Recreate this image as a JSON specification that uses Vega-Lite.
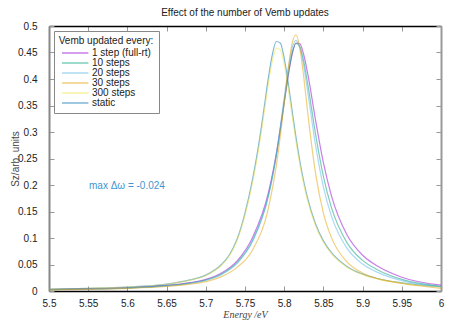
{
  "$schema": "https://vega.github.io/schema/vega-lite/v6.json",
  "width": 392,
  "height": 265,
  "autosize": {"type": "none"},
  "padding": {"left": 49, "top": 26, "right": 16, "bottom": 29},
  "background": "white",
  "config": {
    "font": "Liberation Sans",
    "view": {"stroke": null},
    "axis": {"labelFont": "Liberation Sans", "labelFontSize": 10, "labelColor": "#222", "grid": false}
  },
  "title": {"text": "Effect of the number of Vemb updates", "fontSize": 10, "fontWeight": "normal", "font": "Liberation Sans", "anchor": "middle", "offset": 3, "color": "#222"},
  "layer": [
    {
      "data": {"values": [
        {"s":"static","x":5.5,"y":0.0035},{"s":"static","x":5.55,"y":0.005},{"s":"static","x":5.6,"y":0.0075},{"s":"static","x":5.65,"y":0.013},{"s":"static","x":5.68,"y":0.021},{"s":"static","x":5.7,"y":0.03},{"s":"static","x":5.72,"y":0.05},{"s":"static","x":5.73,"y":0.068},{"s":"static","x":5.74,"y":0.098},{"s":"static","x":5.75,"y":0.147},{"s":"static","x":5.76,"y":0.2133},{"s":"static","x":5.77,"y":0.3002},{"s":"static","x":5.775,"y":0.352},{"s":"static","x":5.78,"y":0.4039},{"s":"static","x":5.785,"y":0.4469},{"s":"static","x":5.79,"y":0.4708},{"s":"static","x":5.795,"y":0.468},{"s":"static","x":5.8,"y":0.4395},{"s":"static","x":5.805,"y":0.3938},{"s":"static","x":5.81,"y":0.3414},{"s":"static","x":5.815,"y":0.2903},{"s":"static","x":5.82,"y":0.2448},{"s":"static","x":5.83,"y":0.1741},{"s":"static","x":5.84,"y":0.1265},{"s":"static","x":5.85,"y":0.0946},{"s":"static","x":5.86,"y":0.0728},{"s":"static","x":5.88,"y":0.0463},{"s":"static","x":5.9,"y":0.0318},{"s":"static","x":5.92,"y":0.0231},{"s":"static","x":5.95,"y":0.0154},{"s":"static","x":6.0,"y":0.008},

        {"s":"300 steps","x":5.5,"y":0.0034},{"s":"300 steps","x":5.55,"y":0.0049},{"s":"300 steps","x":5.6,"y":0.0073},{"s":"300 steps","x":5.65,"y":0.0127},{"s":"300 steps","x":5.68,"y":0.0204},{"s":"300 steps","x":5.7,"y":0.0292},{"s":"300 steps","x":5.72,"y":0.0486},{"s":"300 steps","x":5.73,"y":0.0661},{"s":"300 steps","x":5.74,"y":0.0953},{"s":"300 steps","x":5.75,"y":0.143},{"s":"300 steps","x":5.76,"y":0.2074},{"s":"300 steps","x":5.77,"y":0.2919},{"s":"300 steps","x":5.775,"y":0.3423},{"s":"300 steps","x":5.78,"y":0.3928},{"s":"300 steps","x":5.785,"y":0.4346},{"s":"300 steps","x":5.79,"y":0.4579},{"s":"300 steps","x":5.795,"y":0.4551},{"s":"300 steps","x":5.8,"y":0.4274},{"s":"300 steps","x":5.805,"y":0.383},{"s":"300 steps","x":5.81,"y":0.332},{"s":"300 steps","x":5.815,"y":0.2823},{"s":"300 steps","x":5.82,"y":0.2381},{"s":"300 steps","x":5.83,"y":0.1693},{"s":"300 steps","x":5.84,"y":0.123},{"s":"300 steps","x":5.85,"y":0.092},{"s":"300 steps","x":5.86,"y":0.0708},{"s":"300 steps","x":5.88,"y":0.045},{"s":"300 steps","x":5.9,"y":0.0309},{"s":"300 steps","x":5.92,"y":0.0225},{"s":"300 steps","x":5.95,"y":0.015},{"s":"300 steps","x":6.0,"y":0.0078},

        {"s":"1 step (full-rt)","x":5.5,"y":0.0028},{"s":"1 step (full-rt)","x":5.55,"y":0.004},{"s":"1 step (full-rt)","x":5.6,"y":0.006},{"s":"1 step (full-rt)","x":5.65,"y":0.0105},{"s":"1 step (full-rt)","x":5.68,"y":0.0158},{"s":"1 step (full-rt)","x":5.7,"y":0.022},{"s":"1 step (full-rt)","x":5.72,"y":0.034},{"s":"1 step (full-rt)","x":5.74,"y":0.057},{"s":"1 step (full-rt)","x":5.76,"y":0.102},{"s":"1 step (full-rt)","x":5.78,"y":0.1864},{"s":"1 step (full-rt)","x":5.79,"y":0.2597},{"s":"1 step (full-rt)","x":5.8,"y":0.3558},{"s":"1 step (full-rt)","x":5.805,"y":0.4052},{"s":"1 step (full-rt)","x":5.81,"y":0.4457},{"s":"1 step (full-rt)","x":5.815,"y":0.4679},{"s":"1 step (full-rt)","x":5.82,"y":0.4664},{"s":"1 step (full-rt)","x":5.825,"y":0.4453},{"s":"1 step (full-rt)","x":5.83,"y":0.4101},{"s":"1 step (full-rt)","x":5.84,"y":0.3224},{"s":"1 step (full-rt)","x":5.85,"y":0.242},{"s":"1 step (full-rt)","x":5.86,"y":0.1808},{"s":"1 step (full-rt)","x":5.88,"y":0.106},{"s":"1 step (full-rt)","x":5.9,"y":0.0675},{"s":"1 step (full-rt)","x":5.92,"y":0.0462},{"s":"1 step (full-rt)","x":5.95,"y":0.026},{"s":"1 step (full-rt)","x":6.0,"y":0.011},

        {"s":"10 steps","x":5.5,"y":0.0027},{"s":"10 steps","x":5.55,"y":0.0038},{"s":"10 steps","x":5.6,"y":0.0057},{"s":"10 steps","x":5.65,"y":0.01},{"s":"10 steps","x":5.68,"y":0.015},{"s":"10 steps","x":5.7,"y":0.0208},{"s":"10 steps","x":5.72,"y":0.032},{"s":"10 steps","x":5.74,"y":0.054},{"s":"10 steps","x":5.76,"y":0.0963},{"s":"10 steps","x":5.78,"y":0.1803},{"s":"10 steps","x":5.79,"y":0.2554},{"s":"10 steps","x":5.8,"y":0.3558},{"s":"10 steps","x":5.805,"y":0.4073},{"s":"10 steps","x":5.81,"y":0.4481},{"s":"10 steps","x":5.815,"y":0.4674},{"s":"10 steps","x":5.82,"y":0.4606},{"s":"10 steps","x":5.825,"y":0.4327},{"s":"10 steps","x":5.83,"y":0.3908},{"s":"10 steps","x":5.84,"y":0.2961},{"s":"10 steps","x":5.85,"y":0.2162},{"s":"10 steps","x":5.86,"y":0.1586},{"s":"10 steps","x":5.88,"y":0.0912},{"s":"10 steps","x":5.9,"y":0.0577},{"s":"10 steps","x":5.92,"y":0.0393},{"s":"10 steps","x":5.95,"y":0.022},{"s":"10 steps","x":6.0,"y":0.009},

        {"s":"20 steps","x":5.5,"y":0.0026},{"s":"20 steps","x":5.55,"y":0.0037},{"s":"20 steps","x":5.6,"y":0.0055},{"s":"20 steps","x":5.65,"y":0.0096},{"s":"20 steps","x":5.68,"y":0.0144},{"s":"20 steps","x":5.7,"y":0.02},{"s":"20 steps","x":5.72,"y":0.0308},{"s":"20 steps","x":5.74,"y":0.052},{"s":"20 steps","x":5.76,"y":0.0946},{"s":"20 steps","x":5.78,"y":0.1805},{"s":"20 steps","x":5.79,"y":0.2589},{"s":"20 steps","x":5.8,"y":0.3645},{"s":"20 steps","x":5.805,"y":0.4177},{"s":"20 steps","x":5.81,"y":0.4578},{"s":"20 steps","x":5.815,"y":0.473},{"s":"20 steps","x":5.82,"y":0.4598},{"s":"20 steps","x":5.825,"y":0.4243},{"s":"20 steps","x":5.83,"y":0.3758},{"s":"20 steps","x":5.84,"y":0.2753},{"s":"20 steps","x":5.85,"y":0.1964},{"s":"20 steps","x":5.86,"y":0.1421},{"s":"20 steps","x":5.88,"y":0.0808},{"s":"20 steps","x":5.9,"y":0.0508},{"s":"20 steps","x":5.92,"y":0.0346},{"s":"20 steps","x":5.95,"y":0.0195},{"s":"20 steps","x":6.0,"y":0.008},

        {"s":"30 steps","x":5.5,"y":0.0022},{"s":"30 steps","x":5.55,"y":0.0032},{"s":"30 steps","x":5.6,"y":0.0049},{"s":"30 steps","x":5.65,"y":0.0085},{"s":"30 steps","x":5.68,"y":0.0128},{"s":"30 steps","x":5.7,"y":0.0178},{"s":"30 steps","x":5.72,"y":0.0272},{"s":"30 steps","x":5.74,"y":0.0445},{"s":"30 steps","x":5.76,"y":0.0784},{"s":"30 steps","x":5.78,"y":0.1575},{"s":"30 steps","x":5.79,"y":0.2365},{"s":"30 steps","x":5.8,"y":0.3538},{"s":"30 steps","x":5.805,"y":0.4176},{"s":"30 steps","x":5.81,"y":0.4666},{"s":"30 steps","x":5.815,"y":0.483},{"s":"30 steps","x":5.82,"y":0.4579},{"s":"30 steps","x":5.825,"y":0.4026},{"s":"30 steps","x":5.83,"y":0.3365},{"s":"30 steps","x":5.84,"y":0.2218},{"s":"30 steps","x":5.85,"y":0.1471},{"s":"30 steps","x":5.86,"y":0.1017},{"s":"30 steps","x":5.88,"y":0.0551},{"s":"30 steps","x":5.9,"y":0.0339},{"s":"30 steps","x":5.92,"y":0.0228},{"s":"30 steps","x":5.95,"y":0.0141},{"s":"30 steps","x":6.0,"y":0.005}
      ]},
      "mark": {"type": "line", "strokeWidth": 1.2, "opacity": 0.5, "interpolate": "monotone", "clip": true},
      "encoding": {
        "x": {"field": "x", "type": "quantitative", "scale": {"domain": [5.5, 6], "nice": false},
          "axis": {"title": "Energy /eV", "titleFont": "Liberation Serif", "titleFontStyle": "italic", "titleFontWeight": "normal", "titleFontSize": 10, "titleColor": "#444", "titlePadding": 1,
            "values": [5.5,5.55,5.6,5.65,5.7,5.75,5.8,5.85,5.9,5.95,6], "format": "~g", "labelFlush": false, "domainColor": "#000", "domainWidth": 1.5, "tickColor": "#999", "tickSize": -5, "labelPadding": 12}},
        "y": {"field": "y", "type": "quantitative", "scale": {"domain": [0, 0.5], "nice": false},
          "axis": {"title": "Sz/arb. units", "titleFont": "Liberation Sans", "titleFontWeight": "normal", "titleFontSize": 10, "titleColor": "#444", "titlePadding": -3,
            "values": [0,0.05,0.1,0.15,0.2,0.25,0.3,0.35,0.4,0.45,0.5], "format": "~g", "labelFlush": false, "domainColor": "#888", "domainWidth": 2, "tickColor": "#999", "tickSize": -5, "labelPadding": 17}},
        "color": {"field": "s", "type": "nominal",
          "scale": {"domain": ["1 step (full-rt)", "10 steps", "20 steps", "30 steps", "300 steps", "static"], "range": ["#9400d3", "#009e73", "#56b4e9", "#e69f00", "#f0e442", "#0072b2"]},
          "legend": {"title": "Vemb updated every:", "orient": "top-left", "offset": 5, "padding": 5, "strokeColor": "#888", "fillColor": "white",
            "titleFontWeight": "normal", "titleFontSize": 10, "titleFont": "Liberation Sans", "titleAnchor": "middle", "titleColor": "#222", "titlePadding": 2,
            "labelFontSize": 10, "labelFont": "Liberation Sans", "labelColor": "#222", "symbolType": "M-1,0H5.6", "symbolSize": 64, "symbolStrokeWidth": 1.5, "rowPadding": -3, "labelOffset": 21}}
      }
    },
    {
      "data": {"values": [{"x": 5.551, "y": 0.198, "t": "max Δω = -0.024"}]},
      "mark": {"type": "text", "align": "left", "baseline": "middle", "fontSize": 10, "font": "Liberation Sans", "color": "#3f95d0"},
      "encoding": {
        "x": {"field": "x", "type": "quantitative", "axis": {"orient": "top", "labels": false, "title": null, "values": [5.5,5.55,5.6,5.65,5.7,5.75,5.8,5.85,5.9,5.95,6], "domainColor": "#000", "domainWidth": 1.5, "tickColor": "#999", "tickSize": -5}},
        "y": {"field": "y", "type": "quantitative", "axis": {"orient": "right", "labels": false, "title": null, "values": [0,0.05,0.1,0.15,0.2,0.25,0.3,0.35,0.4,0.45,0.5], "domainColor": "#999", "domainWidth": 2, "tickColor": "#999", "tickSize": -5}},
        "text": {"field": "t"}
      }
    }
  ],
  "resolve": {"axis": {"x": "independent", "y": "independent"}}
}
